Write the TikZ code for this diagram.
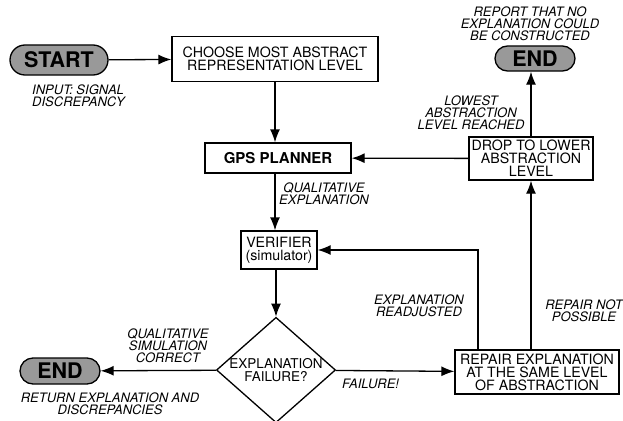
\documentclass[tikz,border=0pt]{standalone}
\usepackage{fontspec}
\setmainfont{TeX Gyre Heros}
\usetikzlibrary{arrows.meta,shapes.geometric}
\tikzset{
  box/.style={draw,line width=1.3pt,fill=white,align=center,inner sep=0pt,font=\fontsize{14.2}{13}\selectfont},
  term/.style={draw,line width=1.3pt,fill=black!40,inner sep=0pt,font=\fontsize{21.5}{21}\selectfont\bfseries},
  dia/.style={diamond,draw,line width=1.3pt,aspect=1.13,inner sep=0pt,align=center,minimum width=118pt,minimum height=104pt,font=\fontsize{13.5}{12.5}\selectfont},
  lbl/.style={align=center,inner sep=0pt,font=\fontsize{13}{11.8}\selectfont\itshape},
  arr/.style={line width=1.3pt,-{Latex[length=13pt,width=10pt]}},
}
\begin{document}
\begin{tikzpicture}[x=1pt,y=-1pt]
   \useasboundingbox (0,0) rectangle (623,420);
   \node [term,minimum width=98pt,minimum height=30pt,rounded corners=15pt] (start) at (59,60) {START};
   \node [lbl,align=left,anchor=west] (input) at (32,96) {INPUT: SIGNAL\\DISCREPANCY};
   \node [box,minimum width=206pt,minimum height=45pt] (choose) at (275,59) {CHOOSE MOST ABSTRACT\\REPRESENTATION LEVEL};
   \node [box,minimum width=146pt,minimum height=30pt,font=\fontsize{15}{15}\selectfont\bfseries] (gps) at (278,158) {GPS PLANNER};
   \node [lbl] (qualexp) at (324,194) {QUALITATIVE\\EXPLANATION};
   \node [box,minimum width=76pt,minimum height=38pt] (verifier) at (279,250) {VERIFIER\\(simulator)};
   \node [dia] (failq) at (276,370) {EXPLANATION\\FAILURE?};
   \node [term,minimum width=80pt,minimum height=26pt,rounded corners=13pt] (endl) at (60,371) {END};
   \node [lbl] (qualsim) at (168,345.5) {QUALITATIVE\\SIMULATION\\CORRECT};
   \node [lbl] (return) at (110,403.5) {RETURN EXPLANATION AND\\DISCREPANCIES};
   \node [lbl,anchor=west] (failure) at (342,384) {FAILURE!};
   \node [box,minimum width=164pt,minimum height=44pt] (repair) at (537,372) {REPAIR EXPLANATION\\AT THE SAME LEVEL\\OF ABSTRACTION};
   \node [lbl] (readj) at (419,305.5) {EXPLANATION\\READJUSTED};
   \node [lbl] (notposs) at (584,311) {REPAIR NOT\\POSSIBLE};
   \node [box,minimum width=124pt,minimum height=43pt] (drop) at (531,158.5) {DROP TO LOWER\\ABSTRACTION\\LEVEL};
   \node [lbl] (lowest) at (471,112.5) {LOWEST\\ABSTRACTION\\LEVEL REACHED};
   \node [term,minimum width=80pt,minimum height=25pt,rounded corners=12.5pt] (endr) at (535,58.5) {END};
   \node [lbl] (report) at (530,23.5) {REPORT THAT NO\\EXPLANATION COULD\\BE CONSTRUCTED};
   \draw [arr] (start) -- (choose);
   \draw [arr] (choose.south) -- (choose.south |- gps.north);
   \draw [arr] (drop) -- (gps);
   \draw [arr] (gps.south -| choose.south) -- (verifier.north -| choose.south);
   \draw [arr] (verifier.south -| failq) -- (failq.north);
   \draw [arr] (failq) -- (endl);
   \draw [arr] (failq) -- (repair);
   \draw [arr] ([xshift=-59pt]repair.north) |- (verifier.east);
   \draw [arr] (repair.north -| drop) -- (drop.south);
   \draw [arr] (drop.north) -- (drop.north |- endr.south);
\end{tikzpicture}
\end{document}
